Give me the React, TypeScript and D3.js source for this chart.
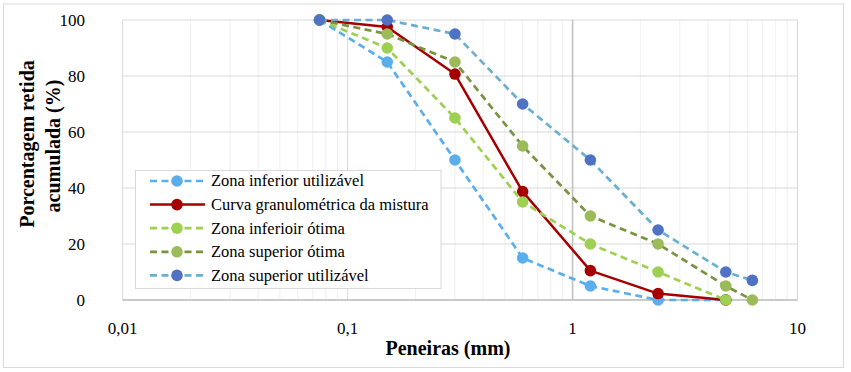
import React from "react";
import * as d3 from "d3";

const sieves = [0.075, 0.15, 0.3, 0.6, 1.2, 2.4, 4.8, 6.3];

const zonaInferiorUtilizavel = [100, 85, 50, 15, 5, 0, 0, null];
const curvaMistura = [100, 97.5, 80.7, 38.7, 10.5, 2.3, 0, null];
const zonaInferiorOtima = [100, 90, 65, 35, 20, 10, 0, null];
const zonaSuperiorOtima = [100, 95, 85, 55, 30, 20, 5, 0];
const zonaSuperiorUtilizavel = [100, 100, 95, 70, 50, 25, 10, 7];

const yTicks = [0, 20, 40, 60, 80, 100];
const xTicks = [0.01, 0.1, 1, 10];
const xTickLabels = ["0,01", "0,1", "1", "10"];

const seriesNames = [
  "Zona inferior utilizável",
  "Curva granulométrica da mistura",
  "Zona inferioir ótima",
  "Zona superior ótima",
  "Zona superior utilizável",
];

const series = [
  { name: seriesNames[0], values: zonaInferiorUtilizavel, line: "#5aaeeb", marker: "#5aaeeb", dash: "7,4.5", width: 2.7 },
  { name: seriesNames[1], values: curvaMistura, line: "#a50000", marker: "#a50000", dash: null, width: 2.5 },
  { name: seriesNames[2], values: zonaInferiorOtima, line: "#9ed052", marker: "#9ed052", dash: "7,4.5", width: 2.7 },
  { name: seriesNames[3], values: zonaSuperiorOtima, line: "#7a9340", marker: "#9bbb59", dash: "7,4.5", width: 2.7 },
  { name: seriesNames[4], values: zonaSuperiorUtilizavel, line: "#6aafcf", marker: "#4f72c4", dash: "7,4.5", width: 2.7 },
];

const W = 851;
const H = 372;
const plot = { left: 122.7, right: 797.5, top: 20, bottom: 300 };
const FONT = "Liberation Serif";

export default function App() {
  const x = d3.scaleLog().domain([0.01, 10]).range([plot.left, plot.right]);
  const y = d3.scaleLinear().domain([0, 100]).range([plot.bottom, plot.top]);

  const minor: number[] = [];
  [0.01, 0.1, 1].forEach((d) => {
    for (let k = 2; k <= 9; k++) minor.push(d * k);
  });

  const line = d3
    .line<[number, number | null]>()
    .defined((d) => d[1] !== null)
    .x((d) => x(d[0]))
    .y((d) => y(d[1] as number));

  const legendX = 135.5;
  const legendY = 170.5;
  const legendW = 305.5;
  const legendH = 118;
  const rowY = (i: number) => 181 + i * 23.6;
  const txt = { fontFamily: FONT };

  return (
    <svg
      width={W}
      height={H}
      style={{ position: "absolute", left: 0, top: 0, background: "#fff", fontFamily: FONT }}
    >
      <rect x={0} y={0} width={W} height={H} fill="#fff" />
      <rect x={3.5} y={4} width={840} height={363.5} fill="#fff" stroke="#d9d9d9" strokeWidth={1} />

      {minor.map((m) => (
        <line key={"m" + m} x1={x(m)} x2={x(m)} y1={plot.top} y2={plot.bottom} stroke="#efefef" strokeWidth={1} />
      ))}
      {xTicks.map((t) => (
        <line key={"M" + t} x1={x(t)} x2={x(t)} y1={plot.top} y2={plot.bottom} stroke="#d9d9d9" strokeWidth={1} />
      ))}
      {yTicks.map((t) => (
        <line key={"h" + t} x1={plot.left} x2={plot.right} y1={y(t)} y2={y(t)} stroke="#d9d9d9" strokeWidth={1} />
      ))}
      <line x1={x(1)} x2={x(1)} y1={plot.top} y2={plot.bottom} stroke="#bfbfbf" strokeWidth={1.5} />
      <line x1={plot.left} x2={plot.right} y1={y(0)} y2={y(0)} stroke="#bfbfbf" strokeWidth={1.5} />

      {yTicks.map((t) => (
        <text key={"yl" + t} style={txt} x={85} y={y(t)} dy="0.35em" textAnchor="end" fontSize={17} fill="#000">
          {t}
        </text>
      ))}
      {xTicks.map((t, i) => (
        <text key={"xl" + t} style={txt} x={x(t)} y={334} textAnchor="middle" fontSize={17} fill="#000">
          {xTickLabels[i]}
        </text>
      ))}

      <text style={txt} x={448} y={355} textAnchor="middle" fontSize={20} fontWeight="bold" fill="#000">
        Peneiras (mm)
      </text>
      <g transform="translate(27,144) rotate(-90)">
        <text style={txt} x={0} y={0} dy="0.35em" textAnchor="middle" fontSize={20} fontWeight="bold" fill="#000">
          Porcentagem retida
        </text>
      </g>
      <g transform="translate(53,146) rotate(-90)">
        <text style={txt} x={0} y={0} dy="0.35em" textAnchor="middle" fontSize={20} fontWeight="bold" fill="#000">
          acumulada (%)
        </text>
      </g>

      {series.map((s) => {
        const pts: [number, number | null][] = sieves.map((v, i) => [v, s.values[i]]);
        return (
          <g key={s.name}>
            <path
              d={line(pts) || ""}
              fill="none"
              stroke={s.line}
              strokeWidth={s.width}
              strokeDasharray={s.dash || undefined}
              strokeLinejoin="round"
            />
            {pts
              .filter((p) => p[1] !== null)
              .map((p, i) => (
                <circle key={i} cx={x(p[0])} cy={y(p[1] as number)} r={5.8} fill={s.marker} />
              ))}
          </g>
        );
      })}

      <rect x={legendX} y={legendY} width={legendW} height={legendH} fill="#fff" stroke="#d9d9d9" strokeWidth={1} />
      {series.map((s, i) => (
        <g key={"lg" + i}>
          <line
            x1={150}
            x2={205}
            y1={rowY(i)}
            y2={rowY(i)}
            stroke={s.line}
            strokeWidth={s.width}
            strokeDasharray={s.dash || undefined}
          />
          <circle cx={177} cy={rowY(i)} r={5.8} fill={s.marker} />
          <text style={txt} x={211} y={rowY(i)} dy="0.33em" fontSize={16.5} fill="#000">
            {s.name}
          </text>
        </g>
      ))}
    </svg>
  );
}
